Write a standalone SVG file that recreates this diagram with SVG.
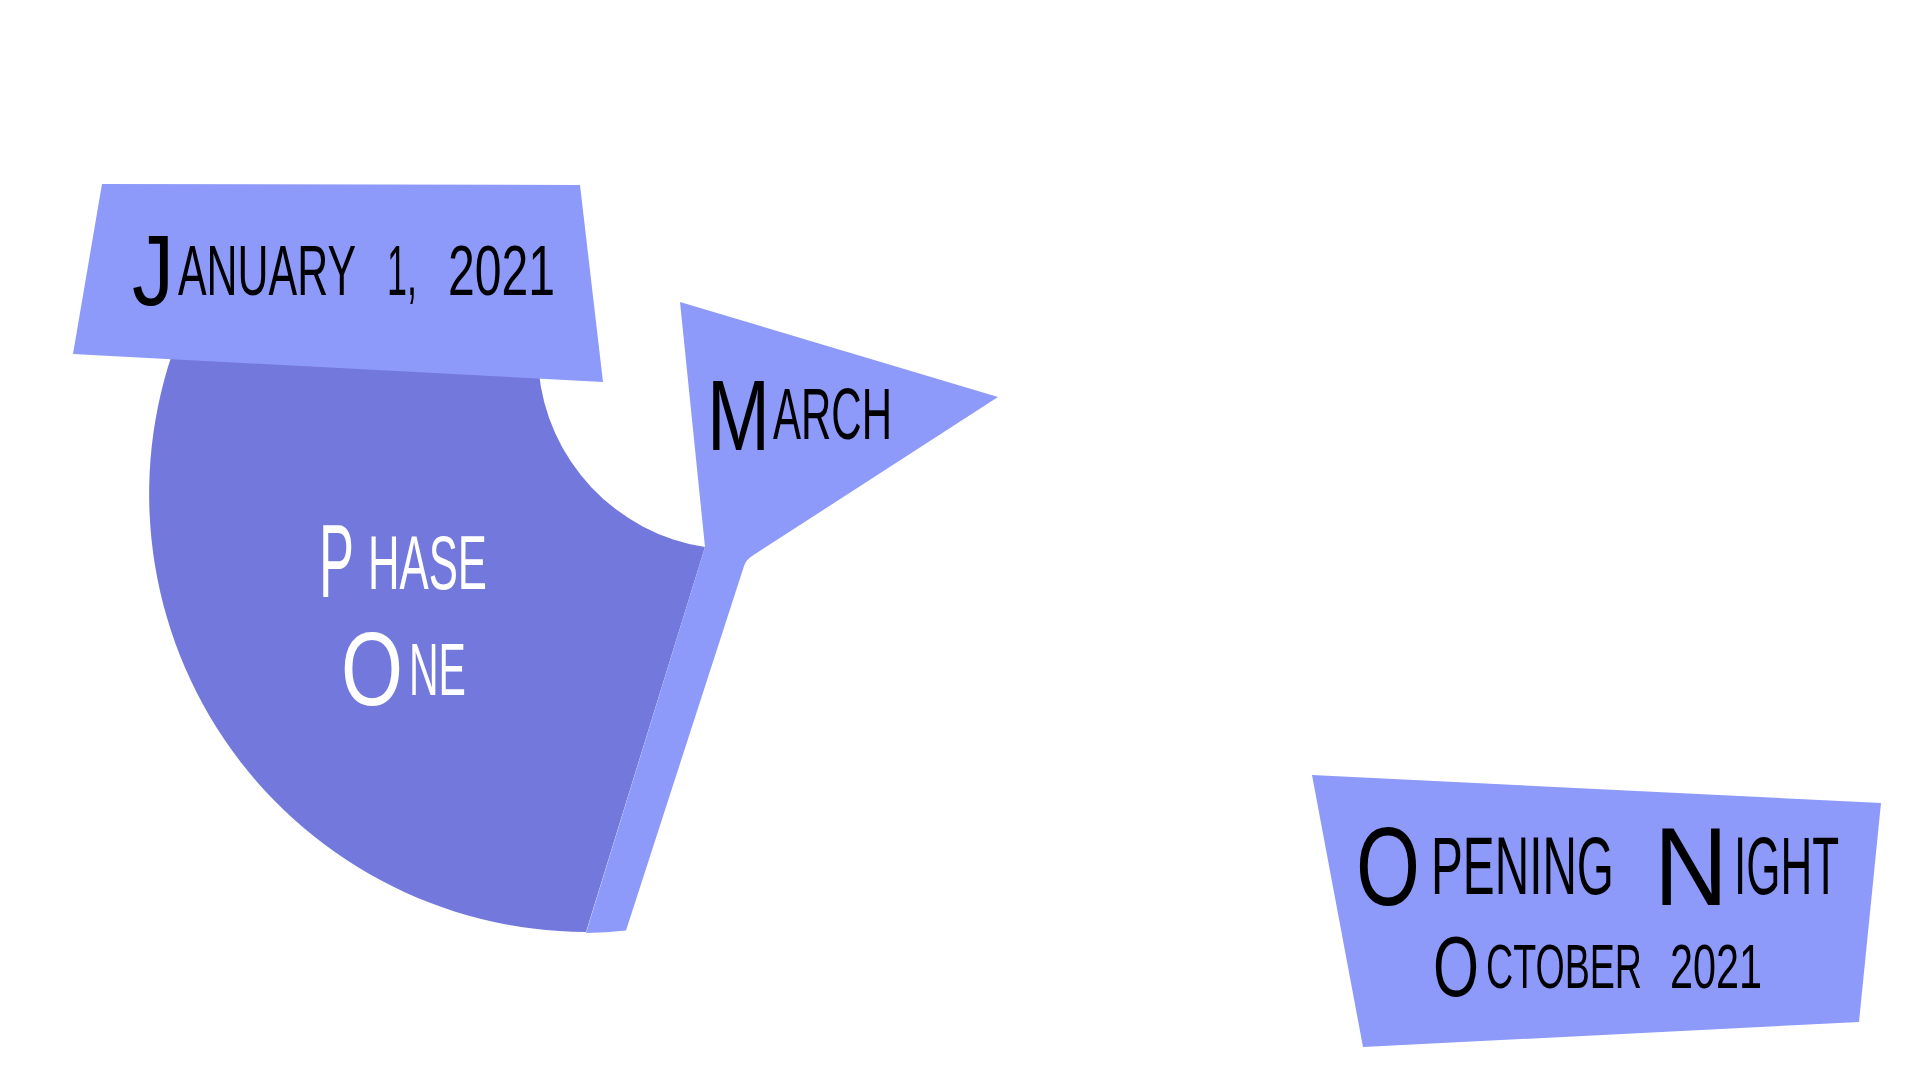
<svg xmlns="http://www.w3.org/2000/svg" width="1920" height="1080" viewBox="0 0 1920 1080">
<style>
.light{fill:#8D9AF9}
.dark{fill:#7378DC}
.t{font-family:"Liberation Sans",Arial,sans-serif;text-transform:uppercase}
.k{fill:#000}
.w{fill:#fff}
</style>
<rect width="1920" height="1080" fill="#fff"/>
<g id="phase-one">
<path class="dark" d="M586,932 L705,547 A197 197 0 0 1 538.6,370 L538,330 L181,330 A438 438 0 0 0 586,932 Z"/>
<text class="t w" font-size="76" transform="scale(0.57,1)"><tspan x="559.65" y="597" font-size="104" textLength="61.4" lengthAdjust="spacingAndGlyphs">P</tspan><tspan x="645.61" y="589" textLength="208.77" lengthAdjust="spacingAndGlyphs">hase</tspan> <tspan x="598.25" y="705" font-size="104" textLength="108.77" lengthAdjust="spacingAndGlyphs">O</tspan><tspan x="717.54" y="695" font-size="75" textLength="100" lengthAdjust="spacingAndGlyphs">ne</tspan></text>
</g>
<g id="january">
<polygon class="light" points="102,184 580,185 603,382 73,354"/>
<text class="t k" font-size="70" transform="scale(0.63,1)"><tspan x="209.52" y="305" font-size="100" textLength="66.67" lengthAdjust="spacingAndGlyphs">J</tspan><tspan x="282.54" y="295" textLength="282.54" lengthAdjust="spacingAndGlyphs">anuary</tspan> <tspan x="614.29" y="295" textLength="47.62" lengthAdjust="spacingAndGlyphs">1,</tspan> <tspan x="711.11" y="295" textLength="169.84" lengthAdjust="spacingAndGlyphs">2021</tspan></text>
</g>
<g id="march">
<path class="light" d="M680,302 L998,397 L752,556 Q746,560 744,566 L626,930.5 Q606,932.5 586,933 L705,547 Z"/>
<text class="t k" font-size="72" transform="scale(0.6,1)"><tspan x="1178.33" y="450" font-size="100" textLength="105" lengthAdjust="spacingAndGlyphs">M</tspan><tspan x="1288.33" y="439" textLength="198.33" lengthAdjust="spacingAndGlyphs">arch</tspan></text>
</g>
<g id="opening-night">
<polygon class="light" points="1312,775 1881,803 1859,1022 1363,1047"/>
<text class="t k" font-size="81" transform="scale(0.58,1)"><tspan x="2337.93" y="905" font-size="112" textLength="110.34" lengthAdjust="spacingAndGlyphs">O</tspan><tspan x="2467.24" y="894" textLength="315.52" lengthAdjust="spacingAndGlyphs">pening</tspan> <tspan x="2851.72" y="905" font-size="112" textLength="127.59" lengthAdjust="spacingAndGlyphs">N</tspan><tspan x="2989.66" y="894" textLength="181.03" lengthAdjust="spacingAndGlyphs">ight</tspan></text>
<text class="t k" font-size="63" transform="scale(0.61,1)"><tspan x="2349.18" y="996" font-size="86" textLength="75.41" lengthAdjust="spacingAndGlyphs">O</tspan><tspan x="2436.07" y="988" textLength="255.74" lengthAdjust="spacingAndGlyphs">ctober</tspan> <tspan x="2737.7" y="988" textLength="150.82" lengthAdjust="spacingAndGlyphs">2021</tspan></text>
</g>
</svg>
